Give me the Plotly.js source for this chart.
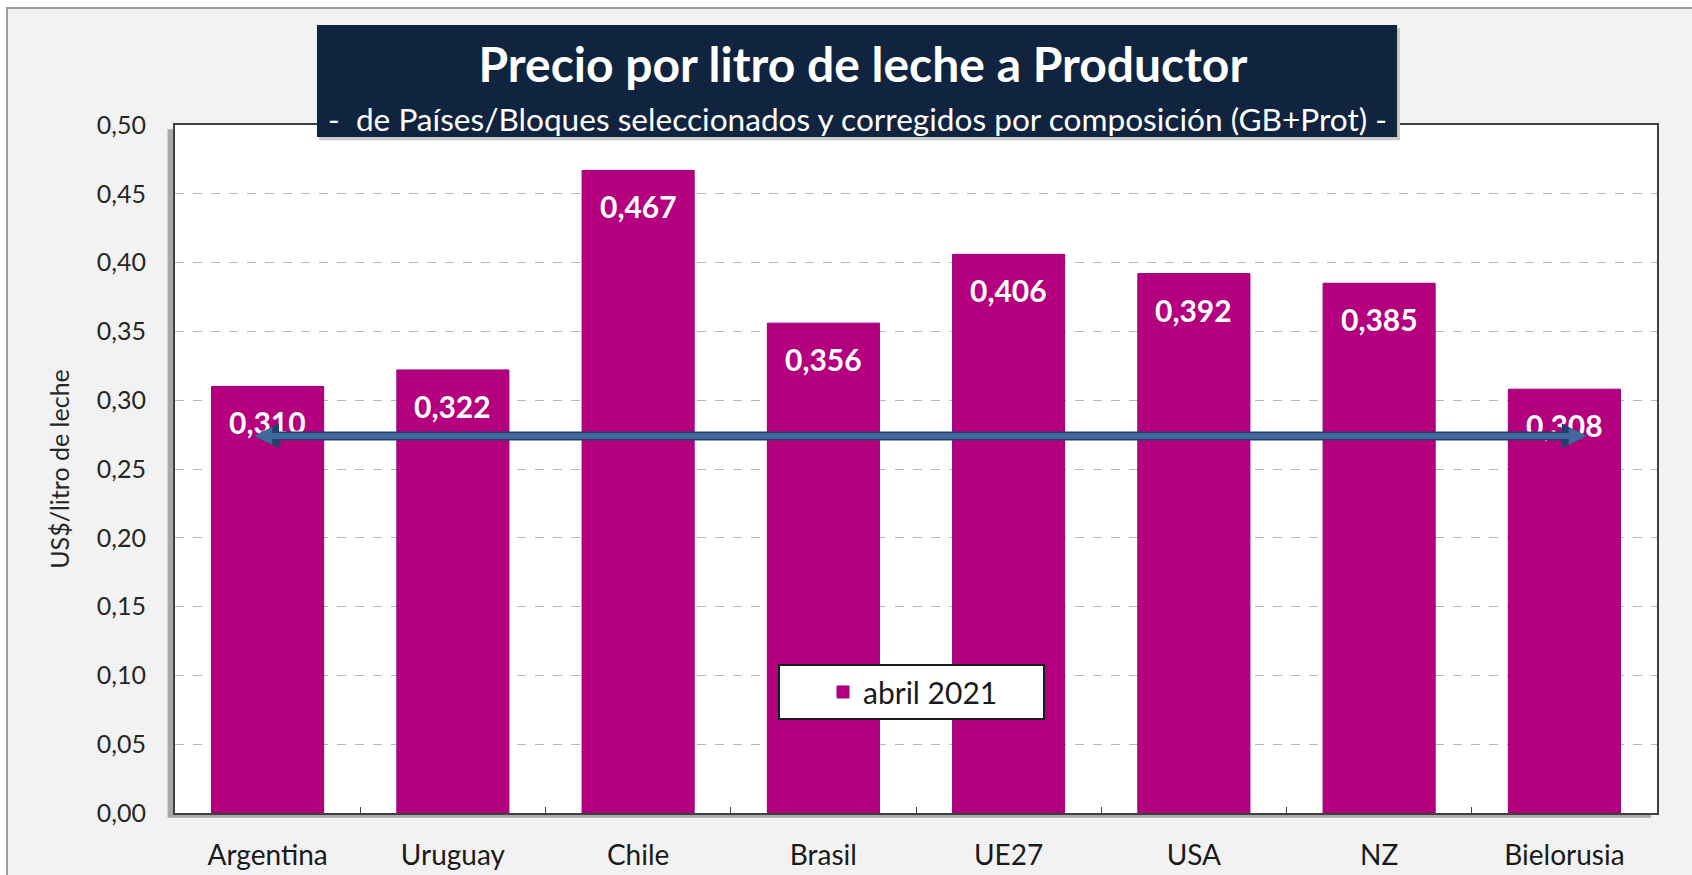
<!DOCTYPE html>
<html>
<head>
<meta charset="utf-8">
<script src="https://cdn.plot.ly/plotly-3.0.1.min.js"></script>
<style>
  html, body { margin: 0; padding: 0; background: #ffffff; }
  #chart { width: 1692px; height: 875px; }
</style>
</head>
<body>
<div id="chart"></div>
<script>
// precio por litro, abril 2021 (US$/litro)
const paises = ['Argentina', 'Uruguay', 'Chile', 'Brasil', 'UE27', 'USA', 'NZ', 'Bielorusia'];
const precios = [0.310, 0.322, 0.467, 0.356, 0.406, 0.392, 0.385, 0.308];
const serieNombre = 'abril 2021';
const yTicks = [0, 0.05, 0.10, 0.15, 0.20, 0.25, 0.30, 0.35, 0.40, 0.45, 0.50];

// flecha horizontal (nivel y extremos en indice de categoria)
const flechaNivel = 0.274;
const flechaDesde = -0.08;
const flechaHasta = 7.12;

const FONT = 'Lato, "Open Sans", sans-serif';
const MAGENTA = '#b4007e';

const trace = {
  type: 'bar',
  x: paises,
  y: precios,
  name: serieNombre,
  marker: { color: MAGENTA, line: { color: '#98007a', width: 1 } },
  hoverinfo: 'x+y'
};

// etiquetas dentro de las barras
const etiquetas = paises.map((p, i) => ({
  x: p,
  y: precios[i],
  xref: 'x',
  yref: 'y',
  text: precios[i].toFixed(3).replace('.', ','),
  showarrow: false,
  yanchor: 'middle',
  yshift: -36,
  font: { family: FONT, size: 30, color: '#ffffff', weight: 'bold' }
}));

const flecha = (w, s, c) => ({
  x: flechaHasta, y: flechaNivel,
  ax: flechaDesde, ay: flechaNivel,
  xref: 'x', yref: 'y', axref: 'x', ayref: 'y',
  text: '',
  showarrow: true,
  arrowside: 'end+start',
  arrowhead: 2,
  arrowsize: s,
  arrowwidth: w,
  arrowcolor: c,
  standoff: 0,
  startstandoff: 0
});

const subtitulo = {
  x: 0.4602, y: 1.0087,
  xref: 'paper', yref: 'paper',
  xanchor: 'center', yanchor: 'middle',
  text: '-  de Países/Bloques seleccionados y corregidos por composición (GB+Prot) -',
  showarrow: false,
  font: { family: FONT, size: 31.6, color: '#ffffff' }
};

const layout = {
  width: 1692,
  height: 875,
  margin: { l: 175, r: 35, t: 125, b: 62 },
  paper_bgcolor: '#ffffff',
  plot_bgcolor: 'rgba(0,0,0,0)',
  separators: ',.',
  font: { family: FONT, color: '#262626' },
  title: {
    text: 'Precio por litro de leche a Productor',
    x: 0.51, xanchor: 'center',
    y: 0.926, yanchor: 'middle', yref: 'container',
    font: { family: FONT, size: 48, color: '#ffffff', weight: 'bold' }
  },
  bargap: 0.395,
  showlegend: true,
  legend: {
    orientation: 'h',
    x: 0.4069, xanchor: 'left',
    y: 0.2166, yanchor: 'top',
    bgcolor: '#ffffff',
    bordercolor: '#1a1a1a',
    borderwidth: 2,
    indentation: 43,
    entrywidth: 175,
    font: { family: FONT, size: 30, color: '#1a1a1a' }
  },
  xaxis: {
    type: 'category',
    showline: true, mirror: true,
    linecolor: '#404040', linewidth: 2,
    ticks: 'inside', tickson: 'boundaries', ticklen: 6, tickcolor: '#404040',
    ticklabelstandoff: 16,
    showgrid: false,
    tickfont: { family: FONT, size: 28, color: '#1a1a1a' }
  },
  yaxis: {
    range: [0, 0.5],
    tickvals: yTicks,
    tickformat: '.2f',
    ticks: '',
    ticklabelstandoff: 22,
    showline: true, mirror: true,
    linecolor: '#404040', linewidth: 2,
    showgrid: true, gridcolor: '#b8b8b8', griddash: 'dash', gridwidth: 1,
    zeroline: false,
    tickfont: { family: FONT, size: 25, color: '#262626' },
    title: {
      text: 'US$/litro de leche',
      standoff: 20,
      font: { family: FONT, size: 25, color: '#262626' }
    }
  },
  shapes: [
    // marco gris del grafico
    { type: 'rect', xref: 'paper', yref: 'paper', layer: 'below',
      x0: -0.1134, x1: 1.2, y0: -0.3, y1: 1.170,
      fillcolor: '#f2f2f2', line: { color: '#9a9a9a', width: 2 } },
    // sombra del area de trazado
    { type: 'rect', xref: 'paper', yref: 'paper', layer: 'below',
      x0: -0.005, x1: 0.996, y0: -0.007, y1: 0.994,
      fillcolor: '#a8a8a8', line: { width: 0 } },
    { type: 'rect', xref: 'paper', yref: 'paper', layer: 'below',
      x0: 0, x1: 1, y0: 0, y1: 1,
      fillcolor: '#ffffff', line: { width: 0 } },
    // caja del titulo
    { type: 'rect', xref: 'paper', yref: 'paper', layer: 'above',
      x0: 0.0972, x1: 0.8266, y0: 0.978, y1: 1.1406,
      fillcolor: '#c8c8c8', line: { width: 0 } },
    { type: 'rect', xref: 'paper', yref: 'paper', layer: 'above',
      x0: 0.0958, x1: 0.8246, y0: 0.9826, y1: 1.1453,
      fillcolor: '#10243f', line: { width: 0 } }
  ],
  annotations: [subtitulo].concat(etiquetas, [flecha(9, 0.55, '#24406a'), flecha(6, 0.6, '#41689a')])
};

Plotly.newPlot('chart', [trace], layout, { displayModeBar: false, staticPlot: true });
</script>
</body>
</html>
